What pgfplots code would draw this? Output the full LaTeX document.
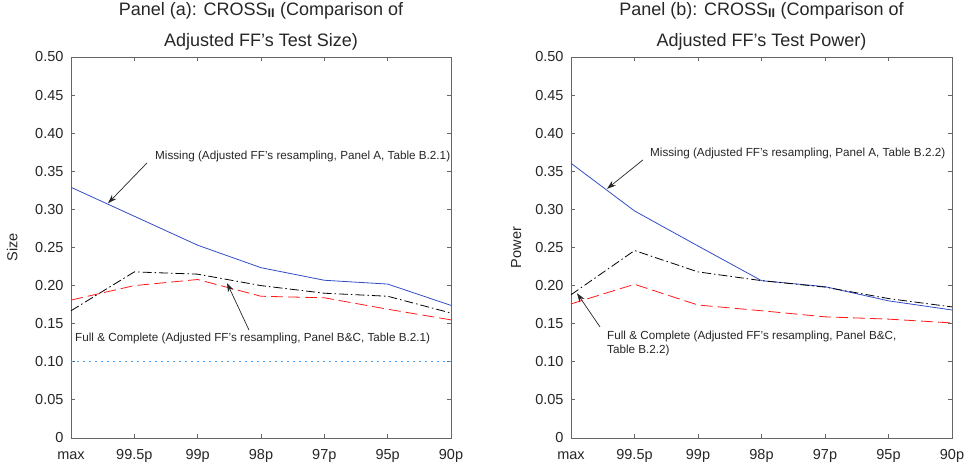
\documentclass[border=0pt]{standalone}
\usepackage{fontspec}
\setmainfont{Liberation Sans}
\usepackage{pgfplots}
\pgfplotsset{compat=1.18}
\usetikzlibrary{arrows.meta}

\definecolor{mblue}{rgb}{0.2,0.3,0.78}
\definecolor{mred}{rgb}{1,0.1,0.1}
\definecolor{refdotblue}{rgb}{0.3,0.62,0.95}
\definecolor{axgray}{rgb}{0.4,0.4,0.4}
\definecolor{txt}{rgb}{0.15,0.15,0.15}

\pgfplotstableread{
x a_miss a_full a_comp b_miss b_full b_comp
0 0.329  0.167 0.181  0.3605 0.188  0.176
1 0.291  0.218 0.200  0.298  0.246  0.2017
2 0.253  0.215 0.208  0.252  0.218  0.1745
3 0.2235 0.200 0.186  0.2065 0.2065 0.167
4 0.207  0.190 0.184  0.1986 0.198  0.159
5 0.202  0.186 0.169  0.180  0.183  0.156
6 0.174  0.164 0.155  0.168  0.172  0.151
}\datatab

\tikzset{
  annot/.style={font=\fontsize{11.7}{13.5}\selectfont, text=txt, inner sep=0pt, anchor=west, align=left},
  arr/.style={black!85, line width=0.7pt, -{Stealth[length=9pt,width=6pt]}},
}

\pgfplotsset{
 mystyle/.style={
  scale only axis, width=380pt, height=381pt,
  xmin=0, xmax=6, ymin=0, ymax=0.5,
  clip=false,
  xtick={0,1,2,3,4,5,6},
  xticklabels={max,99.5p,99p,98p,97p,95p,90p},
  ytick={0,0.05,0.1,0.15,0.2,0.25,0.3,0.35,0.4,0.45,0.5},
  yticklabels={0,0.05,0.10,0.15,0.20,0.25,0.30,0.35,0.40,0.45,0.50},
  tick align=inside, major tick length=4pt,
  axis line style={axgray, line width=0.8pt},
  every tick/.style={axgray, line width=0.8pt},
  /pgf/number format/assume math mode=true,
  tick label style={font=\fontsize{14.5}{17}\selectfont, text=txt},
  yticklabel style={xshift=-4pt},
  xticklabel style={anchor=base, yshift=-22pt},
  label style={font=\fontsize{14.5}{17}\selectfont, text=txt},
  title style={font=\fontsize{18}{31}\selectfont, text=txt, align=center,
    at={(0.5,1)}, anchor=south, inner sep=0pt, yshift=1pt},
  ylabel style={anchor=center},
 }
}

\begin{document}
\begin{tikzpicture}
\path[use as bounding box] (0,0) rectangle (969pt,465pt);

\begin{axis}[mystyle, at={(71pt,27pt)}, anchor=south west,
  title={Panel (a): CROSS\textsubscript{\textbf{II}} (Comparison of\\Adjusted FF's Test Size)},
  ylabel={Size},
  ylabel style={at={(axis description cs:-0.155,0.5)}}]
\addplot[mblue, line width=0.8pt] table[x=x, y=a_miss] {\datatab};
\addplot[black, line width=0.8pt, dash pattern=on 9pt off 3pt on 1.5pt off 3pt] table[x=x, y=a_full] {\datatab};
\addplot[mred, line width=0.8pt, dash pattern=on 12pt off 5pt] table[x=x, y=a_comp] {\datatab};
\addplot[draw=refdotblue, line width=1.3pt, dash pattern=on 2pt off 4pt] coordinates {(0,0.1) (6,0.1)};
\node[annot] at (axis cs:1.326,0.369) {Missing (Adjusted FF's resampling, Panel A, Table B.2.1)};
\draw[arr] (axis cs:1.2,0.361) -- (axis cs:0.584,0.308);
\node[annot] at (axis cs:0.063,0.131) {Full \& Complete (Adjusted FF's resampling, Panel B\&C, Table B.2.1)};
\draw[arr] (axis cs:2.81,0.1417) -- (axis cs:2.463,0.2034);
\end{axis}

\begin{axis}[mystyle, width=381pt, at={(571pt,27pt)}, anchor=south west,
  title={Panel (b): CROSS\textsubscript{\textbf{II}} (Comparison of\\Adjusted FF's Test Power)},
  ylabel={Power},
  ylabel style={at={(axis description cs:-0.144,0.5)}}]
\addplot[mblue, line width=0.8pt] table[x=x, y=b_miss] {\datatab};
\addplot[black, line width=0.8pt, dash pattern=on 9pt off 3pt on 1.5pt off 3pt] table[x=x, y=b_full] {\datatab};
\addplot[mred, line width=0.8pt, dash pattern=on 12pt off 5pt] table[x=x, y=b_comp] {\datatab};
\node[annot] at (axis cs:1.244,0.374) {Missing (Adjusted FF's resampling, Panel A, Table B.2.2)};
\draw[arr] (axis cs:1.134,0.365) -- (axis cs:0.567,0.327);
\node[annot] at (axis cs:0.567,0.124) {Full \& Complete (Adjusted FF's resampling, Panel B\&C,\\Table B.2.2)};
\draw[arr] (axis cs:0.457,0.1457) -- (axis cs:0.0945,0.190);
\end{axis}
\end{tikzpicture}
\end{document}
